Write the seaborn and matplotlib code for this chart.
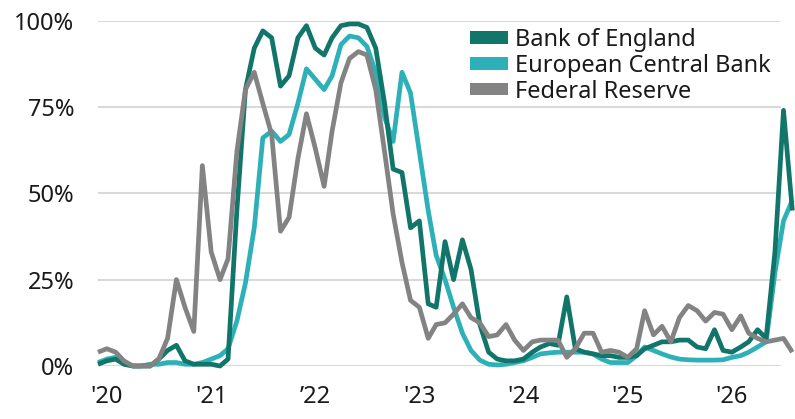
import numpy as np
import pandas as pd
import seaborn as sns
import matplotlib
matplotlib.use("Agg")
import matplotlib.pyplot as plt
import matplotlib.dates as mdates
from matplotlib.patches import Patch

# ---- data (monthly, % probability) ----
dates = pd.date_range("2019-12-01", periods=81, freq="MS")

boe = [0.5, 1.5, 2, 0.5, 0, 0, 0, 2, 4.5, 6,
       1.5, 0.5, 0.5, 0.5, 0, 2, 45, 80, 92, 97,
       95, 81, 84, 95, 98.5, 92, 90, 95, 98.5, 99,
       99, 98, 92, 76, 57, 56, 40, 42, 18, 17,
       36, 25, 36.5, 28, 12, 4, 2, 1.5, 1.5, 2,
       4, 5.5, 6.5, 6, 20, 5, 4, 3.5, 3, 3,
       2.5, 2.5, 3, 5, 6, 7, 7, 7.5, 7.5, 5.5,
       5, 10.5, 4.5, 4, 5.5, 7, 10.5, 8, 33, 74,
       45]

ecb = [1, 2, 2.5, 1, 0, 0, 0.5, 0.5, 1, 1,
       0.5, 0.5, 1, 2, 3, 5, 13, 24, 40, 66,
       68, 65, 67, 76, 86, 83, 80, 84, 93, 95.5,
       95, 92.5, 85, 72, 65, 85, 79, 62, 45, 32,
       25, 17, 9.5, 4.5, 1.7, 0.5, 0.3, 0.5, 1, 1.5,
       2.5, 3.5, 3.8, 4, 4, 4, 4, 3.5, 2, 1,
       1, 1, 3, 5.5, 4.5, 3.5, 2.6, 2, 1.8, 1.7,
       1.7, 1.7, 1.8, 2.5, 3, 4, 5.5, 7, 27, 42,
       48]

fed = [4, 5, 4, 1.5, 0, 0, 0, 2, 8, 25,
       17, 10, 58, 33, 25, 31, 62, 80, 85, 76,
       67, 39, 43, 60, 73, 63, 52, 68, 82, 89,
       91, 90, 80, 62, 44, 30, 19, 17, 8, 12,
       12.5, 15, 18, 14, 12.5, 8.5, 9, 12, 7.5, 4.5,
       7, 7.5, 7.5, 7.5, 2.5, 5, 9.5, 9.5, 4, 4.5,
       4, 2.5, 5, 16, 9, 11.5, 7, 14, 17.5, 16,
       13, 15.5, 15, 10.5, 14.5, 9.5, 8, 7, 7.5, 8,
       4]

series_names = ["Bank of England", "European Central Bank", "Federal Reserve"]
colors = {"Bank of England": "#11756a",
          "European Central Bank": "#2eb0b8",
          "Federal Reserve": "#838383"}

year_ticks = pd.to_datetime([f"{y}-01-01" for y in range(2020, 2027)])
year_labels = ["'20", "'21", "\u201922", "'23", "'24", "'25", "'26"]
y_ticks = [0, 25, 50, 75, 100]
y_labels = ["0%", "25%", "50%", "75%", "100%"]

df = pd.concat([
    pd.DataFrame({"date": dates, "value": boe, "bank": "Bank of England"}),
    pd.DataFrame({"date": dates, "value": ecb, "bank": "European Central Bank"}),
    pd.DataFrame({"date": dates, "value": fed, "bank": "Federal Reserve"}),
])

# ---- style ----
sns.set_theme(style="white")
plt.rcParams["font.family"] = ["Noto Sans", "DejaVu Sans"]
text_color = "#1a1a1a"

W, H = 795, 419
fig = plt.figure(figsize=(W / 100, H / 100), dpi=100)
ax = fig.add_axes([98 / W, (H - 366) / H, (795 - 98) / W, (366 - 20.5) / H])

for v in y_ticks:
    ax.axhline(v, xmin=0, xmax=0.978, color="#d9d9d9", lw=1.5, zorder=0)

draw_order = ["European Central Bank", "Bank of England", "Federal Reserve"]
for name in draw_order:
    sub = df[df["bank"] == name]
    sns.lineplot(data=sub, x="date", y="value", ax=ax, color=colors[name],
                 lw=3.4, legend=False, clip_on=False, solid_joinstyle="round",
                 solid_capstyle="butt")

ax.set_ylim(0, 100)
ax.set_xlim(dates[0], dates[0] + pd.Timedelta(days=30.44 * 80.3))
ax.set_xlabel("")
ax.set_ylabel("")
ax.set_yticks(y_ticks)
ax.set_yticklabels(y_labels)
ax.set_xticks(year_ticks)
ax.set_xticklabels(year_labels)
ax.tick_params(axis="y", length=0, pad=17, labelsize=17, labelcolor=text_color)
ax.tick_params(axis="x", length=0, pad=14, labelsize=17, labelcolor=text_color)
for s in ax.spines.values():
    s.set_visible(False)
ax.patch.set_alpha(0)

handles = [Patch(facecolor=colors[n], edgecolor="none", label=n) for n in series_names]
leg = ax.legend(handles=handles, loc="upper left",
                bbox_to_anchor=(470 / W, 1 - 28 / H), bbox_transform=fig.transFigure,
                frameon=False, fontsize=17, handlelength=1.6, handleheight=0.42,
                handletextpad=0.3, labelspacing=0.08, borderpad=0, borderaxespad=0)
for t in leg.get_texts():
    t.set_color(text_color)

fig.savefig("out.png", dpi=100)
